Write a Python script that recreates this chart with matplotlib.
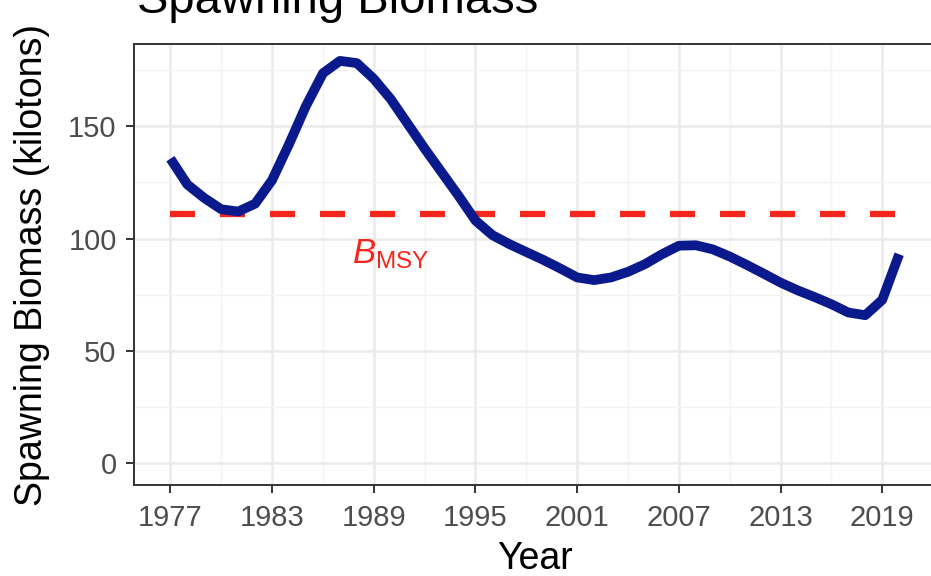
import matplotlib
matplotlib.use("Agg")
import matplotlib.pyplot as plt
from matplotlib.ticker import MultipleLocator, FixedLocator

plt.rcParams['font.family'] = ['Liberation Sans', 'DejaVu Sans']
plt.rcParams['mathtext.fontset'] = 'custom'
plt.rcParams['mathtext.rm'] = 'Liberation Sans'
plt.rcParams['mathtext.it'] = 'Liberation Sans:italic'

years = list(range(1977, 2021))
biomass = [135.5, 124, 118, 113, 112, 115.5, 126, 142, 159, 173.5,
           179, 178, 171, 162, 151, 140, 129.5, 119, 108, 101.5,
           97.5, 94, 90.5, 86.7, 82.7, 81.5, 82.7, 85.2, 88.6, 93,
           96.8, 97, 95.2, 92, 88.3, 84.4, 80.4, 77, 74, 70.8,
           67.1, 65.9, 72.7, 93]
bmsy = 111.1
x_ticks = list(range(1977, 2020, 6))
y_ticks = [0, 50, 100, 150]

W, H = 931, 576
fig = plt.figure(figsize=(W / 100, H / 100), dpi=100)
left, right, top, bottom = 134, 935.6, 44, 485
ax = fig.add_axes([left / W, 1 - bottom / H, (right - left) / W, (bottom - top) / H])

# panel grid (theme_bw look)
ax.set_axisbelow(True)
ax.grid(which='major', color='#EBEBEB', lw=1.8)
ax.grid(which='minor', color='#F3F3F3', lw=1.0)

ax.plot([years[0], years[-1]], [bmsy, bmsy], color='#F5261B', lw=4.5,
        dashes=(4, 4), dash_capstyle='butt')
ax.plot(years, biomass, color='#0A1A8C', lw=7, solid_capstyle='butt',
        solid_joinstyle='round')
ax.text(1990, 93, r'$B_{\mathrm{MSY}}$', color='#F5261B', fontsize=25,
        ha='center', va='center')

ax.set_xlim(1974.85, 2022.15)
ax.set_ylim(-9.6, 186.5)
ax.set_xticks(x_ticks)
ax.set_yticks(y_ticks)
ax.xaxis.set_minor_locator(FixedLocator([t + 3 for t in range(1971, 2020, 6)]))
ax.yaxis.set_minor_locator(MultipleLocator(25))
ax.tick_params(which='minor', length=0)
ax.tick_params(which='major', length=5.5, width=1.4, color='#333333',
               labelcolor='#4D4D4D', labelsize=21)
ax.tick_params(axis='x', pad=8)
ax.tick_params(axis='y', pad=7)
for s in ax.spines.values():
    s.set_color('#333333')
    s.set_linewidth(1.4)

fig.text(137 / W, 1 - 13 / H, 'Spawning Biomass', fontsize=34, va='baseline')
fig.text((left + right) / 2 / W, 1 - 569 / H, 'Year', fontsize=27,
         ha='center', va='baseline')
fig.text(32 / W, 1 - (top + bottom) / 2 / H, 'Spawning Biomass (kilotons)',
         fontsize=27, rotation=90, ha='center', va='center')

fig.savefig('out.png', dpi=100)
